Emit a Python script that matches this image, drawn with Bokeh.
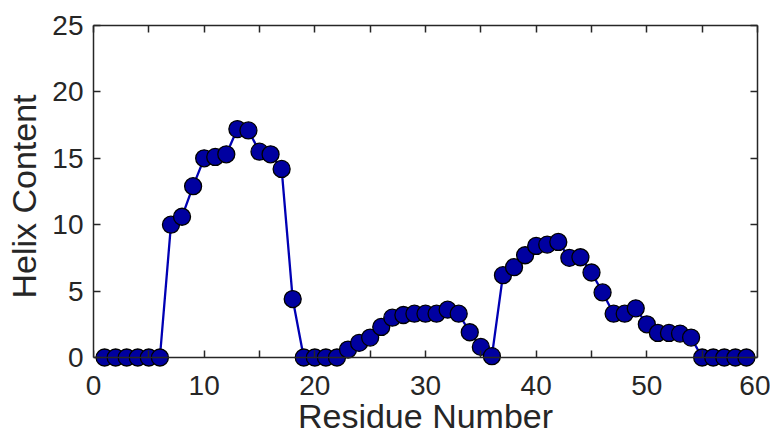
from bokeh.plotting import figure
from bokeh.models import Range1d, FixedTicker, LinearAxis, CustomJSTickFormatter
from bokeh.embed import file_html
from bokeh.resources import INLINE

residue = list(range(1, 60))
helix = [0, 0, 0, 0, 0, 0, 10.0, 10.6, 12.9, 15.0, 15.1, 15.3, 17.2, 17.1, 15.5, 15.3, 14.2, 4.4,
         0, 0, 0, 0, 0.6, 1.1, 1.5, 2.3, 3.0, 3.2, 3.3, 3.3, 3.3, 3.6, 3.3, 1.9, 0.8, 0.1,
         6.2, 6.8, 7.7, 8.4, 8.5, 8.7, 7.5, 7.55, 6.4, 4.9, 3.3, 3.3, 3.7, 2.5, 1.85, 1.85, 1.8, 1.5,
         0, 0, 0, 0, 0]
x_major = [0, 10, 20, 30, 40, 50, 60]
x_minor = [5, 15, 25, 35, 45, 55]
y_major = [0, 5, 10, 15, 20, 25]
x_label = "Residue Number"
y_label = "Helix Content"

FONT = "Liberation Sans"
AX = "#262626"
TICK_FS = "28px"
LABEL_FS = "34px"

X0, X1 = 0, 60
Y0, Y1 = 0, 25
Y_PAD = 0.753  # room below y=0 so the markers on the baseline are not clipped

p = figure(width=770, height=439, output_backend="svg", toolbar_location=None,
           x_axis_location=None,
           x_range=Range1d(X0, X1), y_range=Range1d(Y0 - Y_PAD, Y1),
           min_border_left=93, min_border_right=13, min_border_top=25, min_border_bottom=72)
p.xgrid.visible = False
p.ygrid.visible = False
p.outline_line_color = None

p.line(residue, helix, line_color="#0000B4", line_width=2.3)
p.scatter(residue, helix, size=17, fill_color="#0000A0", line_color="black", line_width=1.3)

blank = CustomJSTickFormatter(code="return ''")

def style(ax, ticks, minor, labels=True, line=True):
    ax.ticker = FixedTicker(ticks=ticks, minor_ticks=minor)
    ax.axis_line_color = AX if line else None
    ax.axis_line_width = 1.5
    ax.major_tick_line_color = AX if line else None
    ax.minor_tick_line_color = AX if line else None
    ax.major_tick_line_width = 1.5
    ax.minor_tick_line_width = 1.5
    ax.major_tick_in = 7
    ax.major_tick_out = 0
    ax.minor_tick_in = 7
    ax.minor_tick_out = 0
    ax.major_label_text_font = FONT
    ax.major_label_text_font_size = TICK_FS
    ax.major_label_text_color = AX
    ax.axis_label_text_font = FONT
    ax.axis_label_text_font_size = LABEL_FS
    ax.axis_label_text_font_style = "normal"
    ax.axis_label_text_color = AX
    if not labels:
        ax.formatter = blank
        ax.major_label_standoff = 0

# bottom labels, in the panel below the frame
xb = LinearAxis(axis_label=x_label)
style(xb, x_major, x_minor, line=False)
xb.major_label_standoff = 8
xb.axis_label_standoff = -1
p.add_layout(xb, "below")

# bottom box line at y=0 with ticks pointing up
xline = LinearAxis(fixed_location=Y0, bounds=(X0, X1))
style(xline, x_major, x_minor, labels=False)
p.add_layout(xline, "below")

yl = p.yaxis[0]
style(yl, y_major, [])
yl.bounds = (Y0, Y1)
yl.axis_label = y_label
yl.major_label_standoff = 10
yl.axis_label_standoff = 6

top = LinearAxis(bounds=(X0, X1))
right = LinearAxis(bounds=(Y0, Y1))
style(top, x_major, x_minor, labels=False)
style(right, y_major, [], labels=False)
p.add_layout(top, "above")
p.add_layout(right, "right")

open("out.html", "w").write(file_html(p, INLINE))
